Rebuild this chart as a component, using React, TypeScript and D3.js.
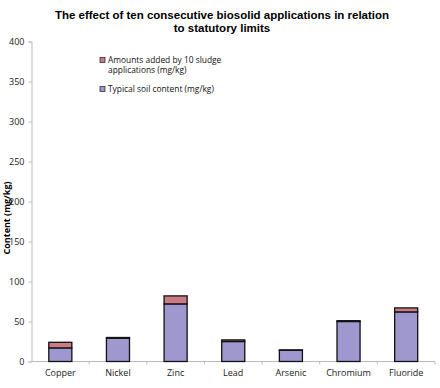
import React, { useRef, useEffect } from 'react'
import * as d3 from 'd3'

const categories = ['Copper', 'Nickel', 'Zinc', 'Lead', 'Arsenic', 'Chromium', 'Fluoride']
const typical = [17, 29, 72, 25, 14, 50, 62]
const added = [7, 1, 10, 2, 0.5, 1, 5]
const yTicks = [0, 50, 100, 150, 200, 250, 300, 350, 400]
const seriesNames = ['Amounts added by 10 sludge|applications (mg/kg)', 'Typical soil content (mg/kg)']
const titleLines = ['The effect of ten consecutive biosolid applications in relation', 'to statutory limits']

const W = 440
const H = 388
const font = "'Open Sans', sans-serif"
const titleFont = "'Liberation Sans', Arial, sans-serif"

function App() {
  const ref = useRef(null)

  useEffect(() => {
    const svg = d3.select(ref.current)
    svg.selectAll('*').remove()

    const x = d3.scaleBand().domain(categories).range([31.5, 435]).padding(0)
    const y = d3.scaleLinear().domain([0, 400]).range([361.5, 41.5])
    const barW = x.bandwidth() * 0.4

    // title, one text per line
    titleLines.forEach((line, i) => {
      svg.append('text')
        .attr('x', 222).attr('y', 19 + i * 13.3)
        .attr('text-anchor', 'middle')
        .attr('font-family', titleFont)
        .attr('font-weight', 'bold')
        .attr('font-size', 11.5)
        .attr('fill', '#000')
        .text(line)
    })

    // y axis
    const gy = svg.append('g').attr('transform', 'translate(31.5,0)')
      .call(d3.axisLeft(y).tickValues(yTicks).tickSize(3).tickPadding(4))
    gy.select('.domain').attr('stroke', '#bbb')
    gy.selectAll('.tick line').attr('stroke', '#bbb')
    gy.selectAll('.tick text').attr('font-family', font).attr('font-size', 9).attr('fill', '#222')

    // x axis
    const gx = svg.append('g').attr('transform', 'translate(0,361.5)')
    gx.append('line').attr('x1', 31.5).attr('x2', 435).attr('stroke', '#bbb')
    gx.selectAll('line.t').data(categories).enter().append('line')
      .attr('class', 't')
      .attr('x1', d => x(d) + x.bandwidth()).attr('x2', d => x(d) + x.bandwidth())
      .attr('y1', 0).attr('y2', 3).attr('stroke', '#bbb')
    gx.selectAll('text').data(categories).enter().append('text')
      .attr('x', d => x(d) + x.bandwidth() / 2)
      .attr('y', 14)
      .attr('text-anchor', 'middle')
      .attr('font-family', font).attr('font-size', 9).attr('fill', '#222')
      .text(d => d)

    // y label
    svg.append('text')
      .attr('transform', 'translate(10,218) rotate(-90)')
      .attr('text-anchor', 'middle')
      .attr('font-family', font).attr('font-weight', 'bold').attr('font-size', 9)
      .text('Content (mg/kg)')

    // bars
    const g = svg.append('g')
    g.selectAll('rect.typ').data(categories).enter().append('rect')
      .attr('x', d => x(d) + (x.bandwidth() - barW) / 2)
      .attr('y', (d, i) => y(typical[i]))
      .attr('width', barW)
      .attr('height', (d, i) => y(0) - y(typical[i]))
      .attr('fill', '#9f98cf').attr('stroke', '#111').attr('stroke-width', 1.3)
    g.selectAll('rect.add').data(categories).enter().append('rect')
      .attr('x', d => x(d) + (x.bandwidth() - barW) / 2)
      .attr('y', (d, i) => y(typical[i] + added[i]))
      .attr('width', barW)
      .attr('height', (d, i) => y(typical[i]) - y(typical[i] + added[i]))
      .attr('fill', '#cc7a84').attr('stroke', '#111').attr('stroke-width', 1.3)

    // legend
    const colors = ['#cc7a84', '#9f98cf']
    const legY = [60, 89]
    seriesNames.forEach((name, i) => {
      svg.append('rect').attr('x', 100).attr('y', legY[i] - 2.5).attr('width', 5).attr('height', 5)
        .attr('fill', colors[i]).attr('stroke', '#333').attr('stroke-width', 0.8)
      name.split('|').forEach((line, j) => {
        svg.append('text').attr('font-family', font).attr('font-size', 8.4).attr('fill', '#111')
          .attr('x', 108).attr('y', legY[i] + 3 + j * 10).text(line)
      })
    })
  }, [])

  return (
    <svg ref={ref} width={W} height={H} style={{ position: 'absolute', left: 0, top: 0 }} />
  )
}

export default App
